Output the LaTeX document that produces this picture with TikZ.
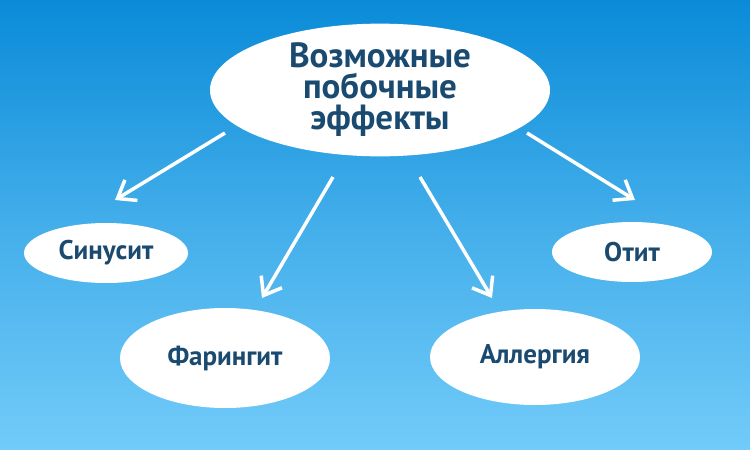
\documentclass[tikz,border=0pt]{standalone}
\usepackage{fontspec}
\setmainfont{PT Sans}
\usetikzlibrary{arrows.meta,shapes.geometric}
\definecolor{topc}{HTML}{0A8BD8}
\definecolor{botc}{HTML}{72CBF9}
\definecolor{txt}{HTML}{1B4A70}
\tikzset{
  oval/.style={ellipse, fill=white, text=txt, font=\bfseries, inner sep=0pt, align=center},
  arr/.style={draw=white, line width=3.5pt, -{Straight Barb[length=16pt,width=24pt,line width=3.5pt]}}
}
\begin{document}
\begin{tikzpicture}[x=1pt,y=-1pt]
\shade[top color=topc, bottom color=botc, middle color=topc!45!botc] (0,0) rectangle (750,450);
\useasboundingbox (0,0) rectangle (750,450);
\node[oval, minimum width=340, minimum height=124, font=\bfseries\fontsize{35}{31}\selectfont] (main) at (380,90) {Возможные\\побочные\\эффекты};
\node[oval, minimum width=164, minimum height=60, font=\bfseries\fontsize{27}{27}\selectfont] (sin) at (106,253) {Синусит};
\node[oval, minimum width=160, minimum height=60, font=\bfseries\fontsize{27}{27}\selectfont] (oti) at (632,252) {Отит};
\node[oval, minimum width=210, minimum height=100, font=\bfseries\fontsize{27}{27}\selectfont] (far) at (225,358) {Фарингит};
\node[oval, minimum width=210, minimum height=96, font=\bfseries\fontsize{27}{27}\selectfont] (all) at (535,357) {Аллергия};
\coordinate (a1s) at (225,133); \coordinate (a1e) at (115,200);
\coordinate (a2s) at (333,177); \coordinate (a2e) at (262,298);
\coordinate (a3s) at (420,177); \coordinate (a3e) at (492,298);
\coordinate (a4s) at (527,133); \coordinate (a4e) at (635,200);
\draw[arr] (a1s) -- (a1e);
\draw[arr] (a2s) -- (a2e);
\draw[arr] (a3s) -- (a3e);
\draw[arr] (a4s) -- (a4e);
\end{tikzpicture}
\end{document}
